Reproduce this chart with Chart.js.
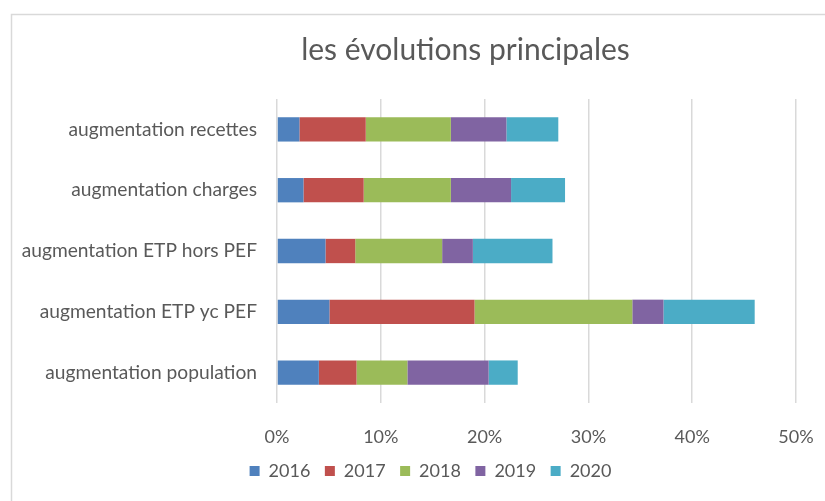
<!DOCTYPE html>
<html>
<head>
<meta charset="utf-8">
<script src="https://cdn.jsdelivr.net/npm/chart.js@4.4.1/dist/chart.umd.min.js"></script>
<style>
html,body{margin:0;padding:0;background:#fff;overflow:hidden;}
#wrap{position:relative;width:825px;height:501px;}
canvas{display:block;}
</style>
</head>
<body>
<div id="wrap"><canvas id="c" width="825" height="501"></canvas></div>
<script>
const categories = [
  "augmentation recettes",
  "augmentation charges",
  "augmentation ETP hors PEF",
  "augmentation ETP yc PEF",
  "augmentation population"
];
const years = ["2016", "2017", "2018", "2019", "2020"];
const v2016 = [2.16, 2.55, 4.67, 5.05, 4.03];
const v2017 = [6.39, 5.80, 2.87, 13.98, 3.63];
const v2018 = [8.20, 8.40, 8.37, 15.20, 4.90];
const v2019 = [5.35, 5.80, 2.96, 3.00, 7.83];
const v2020 = [5.00, 5.20, 7.67, 8.79, 2.80];
const xTicks = [0, 10, 20, 30, 40, 50];

const seriesValues = [v2016, v2017, v2018, v2019, v2020];
const colors = ["#4F81BD", "#C0504D", "#9BBB59", "#8064A2", "#4BACC6"];
const FONT = "Lato, 'Open Sans', sans-serif";
const TXT = "#595959";

const framePlugin = {
  id: 'frame',
  afterLayout(chart) {
    if (chart.titleBlock) { chart.titleBlock.left += 53; chart.titleBlock.right += 53; }
    if (chart.legend) { chart.legend.left += 18; chart.legend.right += 18; }
  },
  beforeDraw(chart) {
    const ctx = chart.ctx;
    ctx.save();
    ctx.strokeStyle = "#d9d9d9";
    ctx.lineWidth = 1.5;
    ctx.beginPath();
    ctx.moveTo(11.5, 520);
    ctx.lineTo(11.5, 14.5);
    ctx.lineTo(840, 14.5);
    ctx.stroke();
    ctx.restore();
  }
};

new Chart(document.getElementById('c'), {
  type: 'bar',
  data: {
    labels: categories,
    datasets: years.map((y, i) => ({
      label: y,
      data: seriesValues[i],
      backgroundColor: colors[i],
      borderWidth: 0,
      barPercentage: 1,
      categoryPercentage: 0.4
    }))
  },
  options: {
    indexAxis: 'y',
    responsive: false,
    animation: false,
    layout: { padding: { left: 0, right: 0, top: 0, bottom: 11 } },
    plugins: {
      title: {
        display: true,
        text: "les évolutions principales",
        color: TXT,
        font: { family: FONT, size: 30, weight: 'normal' },
        padding: { top: 32, bottom: 31 }
      },
      legend: {
        position: 'bottom',
        labels: {
          color: TXT,
          font: { family: FONT, size: 18 },
          boxWidth: 10,
          boxHeight: 10,
          padding: 14.5
        }
      },
      tooltip: { enabled: false }
    },
    scales: {
      x: {
        stacked: true,
        min: 0,
        max: 50,
        afterBuildTicks(scale) { scale.ticks = xTicks.map(v => ({ value: v })); },
        afterFit(scale) { scale.height = 44.5; scale.paddingRight = 29; scale.paddingLeft = 0; },
        ticks: {
          color: TXT,
          font: { family: FONT, size: 18 },
          padding: 23,
          callback: v => v + "%"
        },
        grid: { color: "#d9d9d9", lineWidth: 1.5, drawTicks: false },
        border: { display: false }
      },
      y: {
        stacked: true,
        afterFit(scale) { scale.width = 277; },
        ticks: {
          color: TXT,
          font: { family: FONT, size: 19.2 },
          padding: 20
        },
        grid: { display: false, drawTicks: false },
        border: { display: false }
      }
    }
  },
  plugins: [framePlugin]
});
</script>
</body>
</html>
